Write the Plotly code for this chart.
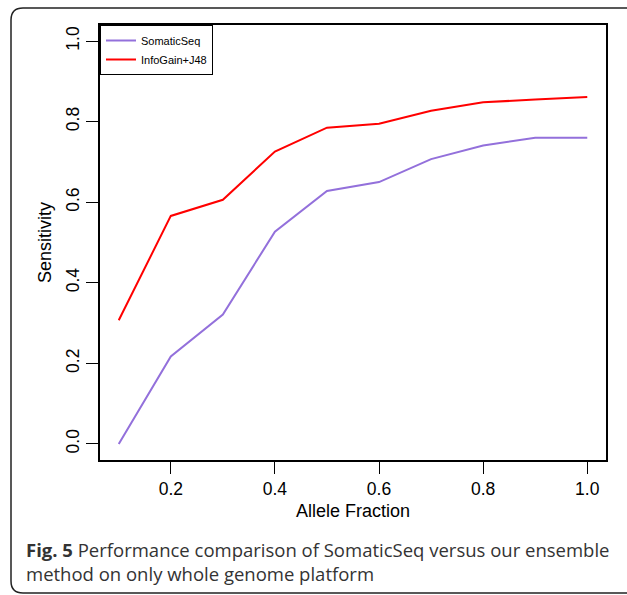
import plotly.graph_objects as go

allele_fraction = [0.1, 0.2, 0.3, 0.4, 0.5, 0.6, 0.7, 0.8, 0.9, 1.0]
somaticseq = [0.000, 0.217, 0.321, 0.527, 0.628, 0.650, 0.707, 0.741, 0.760, 0.760]
infogain_j48 = [0.307, 0.566, 0.606, 0.726, 0.785, 0.795, 0.827, 0.848, 0.855, 0.861]
x_ticks = [0.2, 0.4, 0.6, 0.8, 1.0]
y_ticks = [0.0, 0.2, 0.4, 0.6, 0.8, 1.0]

W, H = 627, 595
L, R, T, B = 100, 21, 25, 135
PW, PH = W - L - R, H - T - B

def px(x):
    return (x - L) / PW

def py(y):
    return (H - B - y) / PH

fig = go.Figure()
fig.add_trace(go.Scatter(x=allele_fraction, y=somaticseq, mode="lines", name="SomaticSeq",
                         line=dict(color="#9370DB", width=2)))
fig.add_trace(go.Scatter(x=allele_fraction, y=infogain_j48, mode="lines", name="InfoGain+J48",
                         line=dict(color="#FF0000", width=2)))

axis_font = dict(family="Liberation Sans, Arial, sans-serif", size=17.5, color="black")
title_font = dict(family="Liberation Sans, Arial, sans-serif", size=18, color="black")
fig.update_xaxes(range=[0.064, 1.036], tickvals=x_ticks, ticktext=[f"{v:.1f}" for v in x_ticks],
                 showgrid=False, zeroline=False, showline=True, mirror=True, linecolor="black",
                 linewidth=1.5, ticks="outside", ticklen=12, tickwidth=1, tickcolor="black",
                 tickfont=axis_font, title=dict(text="Allele Fraction", font=title_font, standoff=7))
fig.update_yaxes(range=[-0.04, 1.04], tickvals=y_ticks, ticktext=[f"{v:.1f}" for v in y_ticks],
                 tickangle=-90, showgrid=False, zeroline=False, showline=True, mirror=True,
                 linecolor="black", linewidth=1.5, ticks="outside", ticklen=12, tickwidth=1,
                 tickcolor="black", tickfont=axis_font,
                 title=dict(text="Sensitivity", font=title_font, standoff=7))

# outer rounded frame
x0, y0, x1, y1, r = 11, 8, 660, 593, 12
path = (f"M {px(x0+r)},{py(y0)} L {px(x1)},{py(y0)} "
        f"M {px(x0+r)},{py(y0)} Q {px(x0)},{py(y0)} {px(x0)},{py(y0+r)} "
        f"L {px(x0)},{py(y1-r)} Q {px(x0)},{py(y1)} {px(x0+r)},{py(y1)} L {px(x1)},{py(y1)}")
fig.add_shape(type="path", xref="paper", yref="paper", path=path,
              line=dict(color="#222222", width=1.5))

cap_font = dict(family="Open Sans, sans-serif", size=18.5, color="#333333")
fig.add_annotation(xref="paper", yref="paper", x=px(24), y=py(549), xanchor="left", yanchor="middle",
                   text="<b>Fig. 5</b> Performance comparison of SomaticSeq versus our ensemble",
                   showarrow=False, font=cap_font)
fig.add_annotation(xref="paper", yref="paper", x=px(24), y=py(573), xanchor="left", yanchor="middle",
                   text="method on only whole genome platform", showarrow=False, font=cap_font)

fig.update_layout(width=W, height=H, margin=dict(l=L, r=R, t=T, b=B),
                  paper_bgcolor="white", plot_bgcolor="white", showlegend=True,
                  legend=dict(x=0, y=1, xanchor="left", yanchor="top", bordercolor="black",
                              borderwidth=1, bgcolor="white", itemwidth=30,
                              font=dict(family="Liberation Sans, Arial, sans-serif", size=11, color="black"),
                              tracegroupgap=0))

fig.write_html("out.html")
